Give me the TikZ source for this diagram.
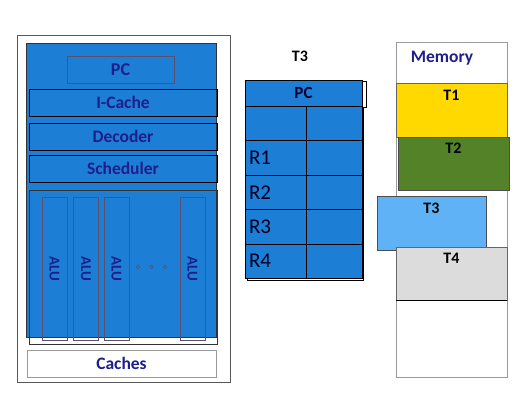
\documentclass[tikz,border=0pt]{standalone}
\usepackage{fontspec}
\setmainfont{Carlito}
\usepackage{tikz}
\usetikzlibrary{positioning}
\definecolor{coreBlue}{RGB}{28, 126, 212}
\definecolor{labelNavy}{RGB}{30, 30, 140}
\definecolor{edgeGray}{RGB}{90, 80, 110}
\definecolor{thrYellow}{RGB}{255, 217, 0}
\definecolor{thrGreen}{RGB}{84, 130, 40}
\definecolor{thrBlue}{RGB}{95, 178, 245}
\definecolor{thrGray}{RGB}{220, 220, 220}

\begin{document}
\begin{tikzpicture}[
    x=1pt, y=-1pt,
    every node/.style={inner sep=0pt, outer sep=0pt},
    stage/.style={rectangle, draw=black, line width=0.6pt, minimum width=188pt, minimum height=27pt, font=\fontsize{17.5}{17.5}\selectfont\bfseries, text=labelNavy},
    alu/.style={rectangle, draw=edgeGray, line width=0.6pt, minimum width=25pt, minimum height=143pt},
    alulabel/.style={rotate=-90, font=\fontsize{15}{15}\selectfont\bfseries, text=labelNavy},
    lcell/.style={rectangle, draw=black, fill=coreBlue, line width=0.6pt, minimum width=61pt, minimum height=34.5pt, inner xsep=4pt, text width=53pt, align=left, font=\fontsize{21}{21}\selectfont, text=black!85!blue},
    rcell/.style={rectangle, draw=black, fill=coreBlue, line width=0.6pt, minimum width=56pt, minimum height=34.5pt},
    thread/.style={rectangle, draw=gray!80!black, line width=0.5pt, minimum width=111pt, minimum height=54pt},
    thrlabel/.style={font=\fontsize{16}{16}\selectfont\bfseries, text=black},
]
\useasboundingbox (0,0) rectangle (522,402);
% core
\node[rectangle, draw=gray!70!black, fill=white, line width=0.6pt, minimum width=213pt, minimum height=347pt] (core) at (123.5,208.5) {};
\node[rectangle, draw=black!80, fill=coreBlue, line width=0.6pt, minimum width=190pt, minimum height=294pt] (body) at (121,190) {};
\node[stage, draw=edgeGray, minimum width=107pt, font=\fontsize{18}{18}\selectfont\bfseries] (pc) at (120.5,69.5) {PC};
\node[stage] (icache) at (123,102.5) {I-Cache};
\node[stage] (decoder) at (123,136.5) {Decoder};
\node[stage] (sched) at (123,168.5) {Scheduler};
\node[rectangle, draw=black!80, line width=0.6pt, minimum width=188pt, minimum height=154pt] (exec) at (123,267) {};
\node[alu] (alu1) at (54.5,268.5) {};
\node[alu] (alu2) at (86,268.5) {};
\node[alu] (alu3) at (116.5,268.5) {};
\node[alu] (alu4) at (192.5,268.5) {};
\foreach \a in {1,...,4}
  \node[alulabel] at (alu\a) {ALU};
\foreach \d [count=\i] in {138,151.5,165}
  \node[circle, draw=edgeGray, line width=0.6pt, minimum size=3.5pt] (dot\i) at (\d,267) {};
\node[stage, draw=gray!80, fill=white, minimum width=189pt] (caches) at (121.5,363.5) {Caches};
% thread context
\node[font=\fontsize{16}{16}\selectfont\bfseries] (ctxname) at (300,56) {T3};
\draw[black, line width=0.6pt] (247,81) rectangle (366,107);
\draw[black, line width=0.6pt] (247,107) rectangle (363,280);
\node[rectangle, draw=black, fill=coreBlue, line width=0.6pt, minimum width=117pt, minimum height=26pt, font=\fontsize{17}{17}\selectfont\bfseries, text=black!80!blue] (pcreg) at (303.5,93) {PC};
\node[lcell] (r0) at (275.5,123.25) {};
\node[rcell] (v0) at (334,123.25) {};
\foreach \r [count=\i] in {R1,R2,R3,R4} {
  \node[lcell, below=0pt of r\the\numexpr\i-1\relax] (r\i) {\r};
  \node[rcell, below=0pt of v\the\numexpr\i-1\relax] (v\i) {};
}
% memory
\node[rectangle, draw=gray!80, fill=white, line width=0.5pt, minimum width=111pt, minimum height=335pt] (mem) at (451.5,209.5) {};
\node[font=\fontsize{17.5}{17.5}\selectfont\bfseries, text=labelNavy] (memname) at (442,58) {Memory};
\node[thread, fill=thrYellow, anchor=north west] (t1) at (396,83) {};
\node[thread, fill=thrGreen, draw=black!70, anchor=north west, minimum width=111pt, minimum height=53pt] (t2) at (398,137) {};
\node[thread, fill=thrBlue, draw=gray!60!black, anchor=north west, minimum width=109pt] (t3) at (377,196) {};
\node[thread, fill=thrGray, anchor=north west, minimum height=53pt] (t4) at (396,247) {};
\draw[black, line width=0.6pt] (t4.south west) -- (t4.south east);
\node[thrlabel, below=7pt of t1.north] (t1name) {T1};
\node[thrlabel, below=6pt of t2.north] (t2name) {T2};
\node[thrlabel, below=7pt of t3.north] (t3name) {T3};
\node[thrlabel, below=6pt of t4.north] (t4name) {T4};
\end{tikzpicture}
\end{document}
